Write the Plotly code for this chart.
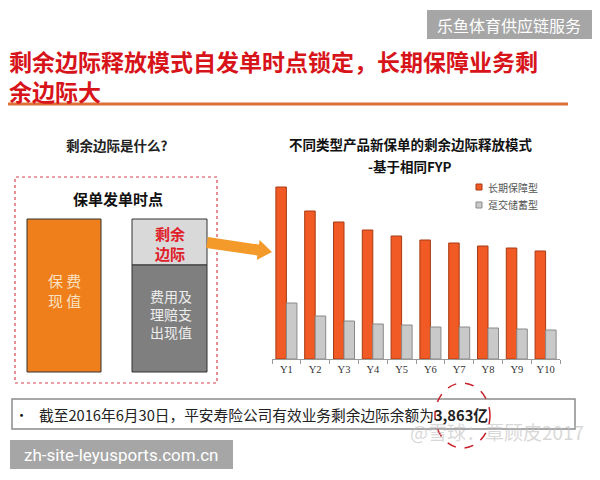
import plotly.graph_objects as go

W, H = 600, 480

# ---- data ----
years = ["Y1", "Y2", "Y3", "Y4", "Y5", "Y6", "Y7", "Y8", "Y9", "Y10"]
long_term = [172, 148, 137, 129, 123, 119, 116, 113, 111, 108]
single_premium = [56, 43, 38, 35, 34, 32, 32, 31, 30, 29]
series_names = ["长期保障型", "趸交储蓄型"]

title_line1 = "剩余边际释放模式自发单时点锁定，长期保障业务剩"
title_line2 = "余边际大"
chart_title1 = "不同类型产品新保单的剩余边际释放模式"
chart_title2 = "-基于相同FYP"
bottom_text = "截至2016年6月30日，平安寿险公司有效业务剩余边际余额为<b>3,863亿</b>"

CJK = "Noto Sans CJK SC"


def px(x):
    return x / W


def py(y):
    return 1 - y / H


fig = go.Figure()
fig.add_trace(go.Bar(
    x=years, y=long_term, name=series_names[0],
    marker=dict(color="#F15A24", line=dict(color="#A83A12", width=1)),
    showlegend=False,
))
fig.add_trace(go.Bar(
    x=years, y=single_premium, name=series_names[1],
    marker=dict(color="#C9C9C9", line=dict(color="#8A8A8A", width=1)),
    showlegend=False,
))

fig.update_layout(
    width=W, height=H, autosize=False,
    margin=dict(l=0, r=0, t=0, b=0),
    paper_bgcolor="white", plot_bgcolor="white",
    barmode="group", bargap=0.27, bargroupgap=0.0,
    xaxis=dict(domain=[px(272), px(560)], showgrid=False,
               showline=True, linecolor="#9A9A9A", linewidth=1,
               ticks="outside", tickson="boundaries", ticklen=4,
               tickcolor="#9A9A9A",
               tickfont=dict(family="Liberation Serif", size=10.5, color="#333")),
    yaxis=dict(domain=[py(359), py(179)], range=[0, 180], visible=False),
)

shapes = []
ann = []


def add_text(text, x, y, size, color, xanchor="center", bold=False, family=CJK):
    font = dict(family=family, size=size, color=color)
    if bold:
        font["weight"] = "bold"
    ann.append(dict(text=text, x=px(x), y=py(y), xref="paper", yref="paper",
                    xanchor=xanchor, yanchor="middle", align=xanchor if xanchor != "right" else "right",
                    showarrow=False, font=font))


# header gray box
shapes.append(dict(type="rect", xref="paper", yref="paper",
                   x0=px(427), x1=px(592), y0=py(39), y1=py(10),
                   fillcolor="#A6A6A6", line=dict(width=0)))
add_text("乐鱼体育供应链服务", 509, 25, 16, "white")

# main title (two lines in one text)
add_text(title_line1 + "<br>" + title_line2, 7, 76, 23, "#D7141A", xanchor="left", bold=True)
shapes.append(dict(type="line", xref="paper", yref="paper",
                   x0=px(8), x1=px(568), y0=py(104), y1=py(104),
                   line=dict(color="#E0703A", width=3)))

# left panel
add_text("剩余边际是什么?", 117, 145, 13.5, "#222", bold=True)
shapes.append(dict(type="rect", xref="paper", yref="paper",
                   x0=px(15), x1=px(217), y0=py(383), y1=py(177),
                   line=dict(color="#D9414A", width=1.2, dash="dot")))
add_text("保单发单时点", 118, 198, 15, "#111", bold=True)
shapes.append(dict(type="rect", xref="paper", yref="paper",
                   x0=px(27), x1=px(101), y0=py(372), y1=py(219),
                   fillcolor="#EE7F1A", line=dict(color="#333", width=1)))
add_text("保 费<br>现 值", 64, 290, 15, "#FBE2C4")
shapes.append(dict(type="rect", xref="paper", yref="paper",
                   x0=px(132), x1=px(207), y0=py(265), y1=py(219),
                   fillcolor="#D9D9D9", line=dict(color="#333", width=1)))
shapes.append(dict(type="rect", xref="paper", yref="paper",
                   x0=px(132), x1=px(207), y0=py(372), y1=py(265),
                   fillcolor="#7F7F7F", line=dict(color="#333", width=1)))
add_text("剩余<br>边际", 170, 243, 15, "#E0202A", bold=True)
add_text("费用及<br>理赔支<br>出现值", 171, 314, 14, "#EDEDED")

# arrow
pts = [(207.8, 237.1), (259.0, 244.6), (259.6, 240.1), (272, 252),
       (256.8, 259.9), (257.4, 255.4), (206.2, 247.9)]
path = "M " + " L ".join(f"{px(a):.5f},{py(b):.5f}" for a, b in pts) + " Z"
shapes.append(dict(type="path", xref="paper", yref="paper", path=path,
                   fillcolor="#F39A2B", line=dict(width=0)))

# chart title
add_text(chart_title1, 410, 144, 13.5, "#111", bold=True)
add_text(chart_title2, 410, 166, 13.5, "#111", bold=True)

# custom legend
leg_colors = [("#F15A24", "#A83A12"), ("#C9C9C9", "#8A8A8A")]
for i, name in enumerate(series_names):
    yc = 187 + i * 18
    shapes.append(dict(type="rect", xref="paper", yref="paper",
                       x0=px(476), x1=px(482), y0=py(yc + 3), y1=py(yc - 3),
                       fillcolor=leg_colors[i][0], line=dict(color=leg_colors[i][1], width=1)))
    add_text(name, 486, yc, 10, "#555", xanchor="left")

# bottom text box
shapes.append(dict(type="rect", xref="paper", yref="paper",
                   x0=px(12), x1=px(575), y0=py(429), y1=py(399),
                   line=dict(color="#8C8C8C", width=1.5)))
add_text("•", 21, 414, 13, "#111")
add_text(bottom_text, 37, 414, 14.7, "#222", xanchor="left")
shapes.append(dict(type="circle", xref="paper", yref="paper",
                   x0=px(435), x1=px(490), y0=py(448), y1=py(383),
                   line=dict(color="#C8202A", width=1.5, dash="dash")))

# watermark overlay
add_text("@雪球：覃顾皮2017", 586, 431, 19, "rgba(190,190,190,0.6)", xanchor="right")

# bottom-left gray box
shapes.append(dict(type="rect", xref="paper", yref="paper",
                   x0=px(10), x1=px(233), y0=py(469), y1=py(440),
                   fillcolor="#A6A6A6", line=dict(width=0)))
add_text("zh-site-leyusports.com.cn", 121, 455, 17, "white", family="Roboto")

fig.update_layout(shapes=shapes, annotations=ann)
fig.write_html("out.html")
